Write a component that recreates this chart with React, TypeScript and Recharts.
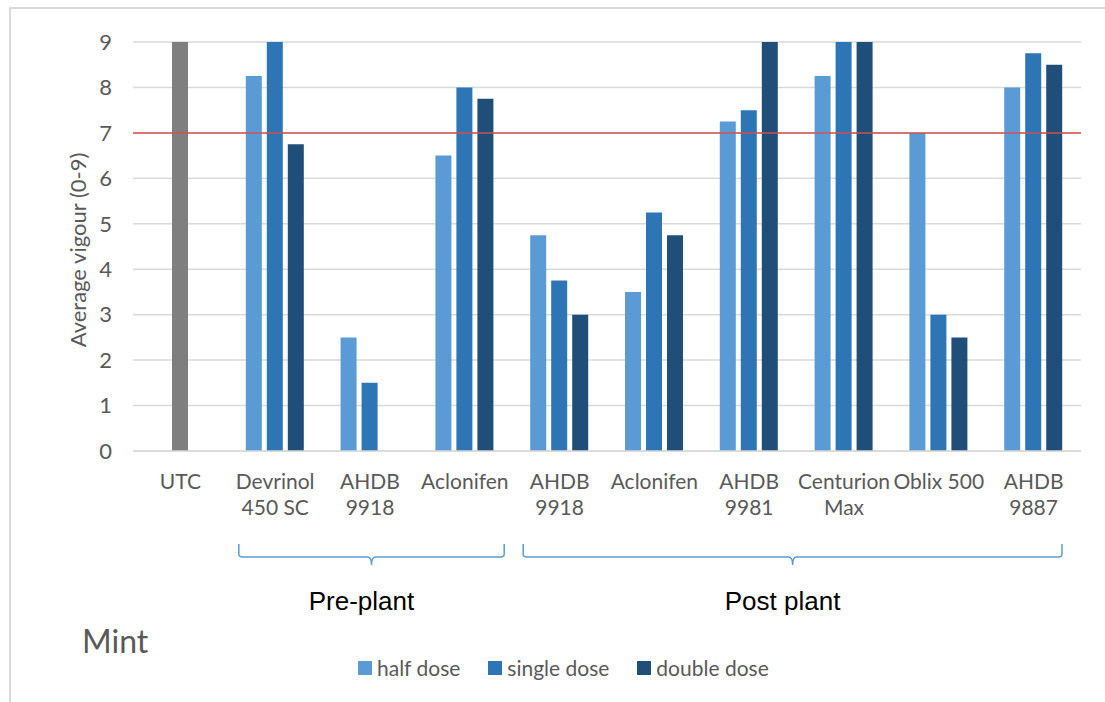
import React from 'react';
import { BarChart, Bar, XAxis, YAxis, CartesianGrid, ReferenceLine, Legend, Cell, Label } from 'recharts';

// treatments along the x axis ("\n" splits a label over two lines)
const treatments = [
  'UTC',
  'Devrinol\n450 SC',
  'AHDB\n9918',
  'Aclonifen',
  'AHDB\n9918',
  'Aclonifen',
  'AHDB\n9981',
  'Centurion\nMax',
  'Oblix 500',
  'AHDB\n9887',
];

// average vigour scores (0-9); null = not tested
const halfDose = [null, 8.25, 2.5, 6.5, 4.75, 3.5, 7.25, 8.25, 7, 8];
const singleDose = [9, 9, 1.5, 8, 3.75, 5.25, 7.5, 9, 3, 8.75];
const doubleDose = [null, 6.75, null, 7.75, 3, 4.75, 9, 9, 2.5, 8.5];

const seriesNames = ['half dose', 'single dose', 'double dose'];
const yTicks = [0, 1, 2, 3, 4, 5, 6, 7, 8, 9];
const threshold = 7;

// application timing groups, by treatment index [from, to)
const groups = [
  { label: 'Pre-plant', from: 1, to: 4 },
  { label: 'Post plant', from: 4, to: 10 },
];

const W = 1105;
const H = 702;
const PLOT_LEFT = 133;
const PLOT_RIGHT = 1081;
const FONT = 'Lato, "Open Sans", sans-serif';
const GREY_TEXT = '#595959';

const data = treatments.map((name, i) => ({
  name,
  half: halfDose[i],
  single: singleDose[i],
  double: doubleDose[i],
}));

function TreatmentTick(props: any) {
  const { x, y, payload } = props;
  const lines = String(payload.value).split('\n');
  return (
    <text x={x} y={y} textAnchor="middle" fill={GREY_TEXT} fontSize={21} fontFamily={FONT}>
      {lines.map((line, i) => (
        <tspan key={i} x={x} dy={i === 0 ? 30 : 26}>
          {line}
        </tspan>
      ))}
    </text>
  );
}

function DoseLegend(props: any) {
  const items = [...(props.payload || [])].sort(
    (a: any, b: any) => seriesNames.indexOf(a.value) - seriesNames.indexOf(b.value)
  );
  return (
    <div style={{ display: 'flex', alignItems: 'center', fontFamily: FONT, fontSize: 21, color: GREY_TEXT }}>
      {items.map((entry: any) => (
        <div key={entry.value} style={{ display: 'flex', alignItems: 'center', marginRight: 28 }}>
          <span style={{ width: 14, height: 14, background: entry.color, marginRight: 5, display: 'inline-block' }} />
          <span>{entry.value}</span>
        </div>
      ))}
    </div>
  );
}

function GroupBrackets() {
  const band = (PLOT_RIGHT - PLOT_LEFT) / treatments.length;
  const top = 544;
  const mid = 557;
  const tip = 565;
  return (
    <svg width={W} height={H} style={{ position: 'absolute', left: 0, top: 0, pointerEvents: 'none' }}>
      {groups.map((g) => {
        const x1 = PLOT_LEFT + band * g.from + 11;
        const x2 = PLOT_LEFT + band * g.to - (g.to === treatments.length ? 19 : 8);
        const cx = (x1 + x2) / 2;
        const d = [
          `M ${x1} ${top}`,
          `L ${x1} ${mid - 3}`,
          `Q ${x1} ${mid} ${x1 + 4} ${mid}`,
          `L ${cx - 4} ${mid}`,
          `Q ${cx} ${mid} ${cx} ${tip}`,
          `Q ${cx} ${mid} ${cx + 4} ${mid}`,
          `L ${x2 - 4} ${mid}`,
          `Q ${x2} ${mid} ${x2} ${mid - 3}`,
          `L ${x2} ${top}`,
        ].join(' ');
        return (
          <g key={g.label}>
            <path d={d} fill="none" stroke="#5B9BD5" strokeWidth={1.5} />
            <text
              x={cx - 10}
              y={610}
              textAnchor="middle"
              fontSize={26}
              fontFamily='"Liberation Sans", Arial, sans-serif'
              fill="#000"
            >
              {g.label}
            </text>
          </g>
        );
      })}
      <text x={82} y={653} fontSize={32} fontFamily={FONT} fill={GREY_TEXT}>
        Mint
      </text>
    </svg>
  );
}

export default function App() {
  return (
    <div style={{ position: 'absolute', left: 0, top: 0, width: W, height: H, background: '#fff' }}>
      <div
        style={{
          position: 'absolute',
          left: 9,
          top: 7,
          width: W,
          height: H,
          borderLeft: '2px solid #D9D9D9',
          borderTop: '2px solid #D9D9D9',
        }}
      />
      <BarChart
        width={W}
        height={H}
        data={data}
        margin={{ top: 42, right: W - PLOT_RIGHT, left: PLOT_LEFT - 60, bottom: 171 }}
        barSize={16}
        barGap={5}
      >
        <CartesianGrid vertical={false} stroke="#D9D9D9" strokeWidth={1.5} />
        <XAxis
          dataKey="name"
          height={80}
          tickLine={false}
          axisLine={{ stroke: '#D9D9D9', strokeWidth: 1.5 }}
          tick={<TreatmentTick />}
          interval={0}
        />
        <YAxis
          width={60}
          domain={[0, 9]}
          ticks={yTicks}
          axisLine={false}
          tickLine={false}
          tickSize={0}
          tickMargin={21}
          tick={{ fill: GREY_TEXT, fontSize: 22, fontFamily: FONT }}
        >
          <Label
            content={() => (
              <text
                x={77}
                y={250}
                transform="rotate(-90, 77, 250)"
                textAnchor="middle"
                dominantBaseline="central"
                fontSize={22}
                fontFamily={FONT}
                fill={GREY_TEXT}
              >
                Average vigour (0-9)
              </text>
            )}
          />
        </YAxis>
        <Legend
          verticalAlign="middle"
          align="center"
          content={<DoseLegend />}
          wrapperStyle={{ left: 358, top: 655, width: 'auto' }}
        />
        <Bar dataKey="half" name="half dose" fill="#5B9BD5" isAnimationActive={false} />
        <Bar dataKey="single" name="single dose" fill="#2E75B6" isAnimationActive={false}>
          {data.map((d, i) => (
            <Cell key={i} fill={i === 0 ? '#7F7F7F' : '#2E75B6'} />
          ))}
        </Bar>
        <Bar dataKey="double" name="double dose" fill="#1F4E79" isAnimationActive={false} />
        <ReferenceLine y={threshold} stroke="#D0504F" strokeWidth={1.5} />
      </BarChart>
      <GroupBrackets />
    </div>
  );
}
